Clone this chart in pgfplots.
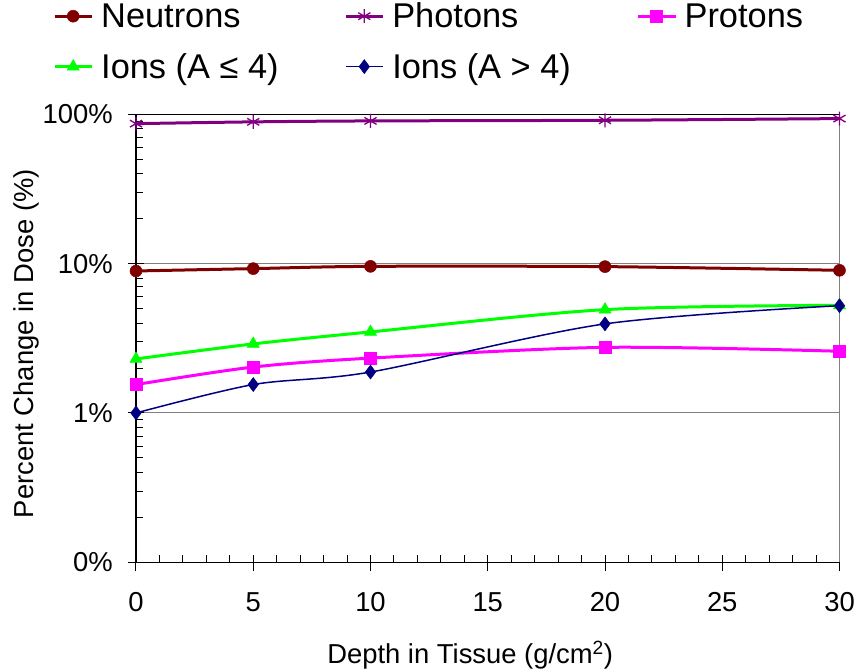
\documentclass[border=0pt]{standalone}
\usepackage{pgfplots}
\pgfplotsset{compat=1.18}
\usepackage{fontspec}
\setmainfont{Liberation Sans}
\definecolor{neut}{HTML}{800000}
\definecolor{phot}{HTML}{800080}
\definecolor{prot}{HTML}{FF00FF}
\definecolor{ionl}{HTML}{00FF00}
\definecolor{ionh}{HTML}{000080}
\definecolor{gridg}{HTML}{808080}
\begin{document}
\begin{tikzpicture}
\begin{axis}[
  scale only axis, width=703.5bp, height=448bp,
  ymode=log, xmin=0, xmax=30, ymin=0.1, ymax=100,
  axis lines*=left,
  axis line style={line width=1.5bp, black, -},
  clip=false,
  xtick={0,5,...,30}, minor x tick num=4,
  ytick={0.1,1,10,100}, yticklabels={0\%,1\%,10\%,100\%},
  minor ytick={0.2,0.3,0.4,0.5,0.6,0.7,0.8,0.9,2,3,4,5,6,7,8,9,20,30,40,50,60,70,80,90},
  tick align=inside,
  major tick length=16bp, minor tick length=7bp,
  every tick/.append style={line width=1bp, black},
  every major x tick/.append style={yshift=-9bp},
  every major y tick/.append style={xshift=-8bp},
  ymajorgrids, major grid style={line width=1bp, gridg},
  tick label style={font=\fontsize{27.5}{33}\selectfont},
  /pgf/number format/assume math mode=true,
  xticklabel style={anchor=base, inner sep=0pt, yshift=-48.7bp},
  yticklabel style={anchor=east, inner sep=0pt, xshift=-23bp},
  xlabel={Depth in Tissue (g/cm\textsuperscript{2})},
  xlabel style={at={(axis description cs:0.475,-0.2248)}, anchor=base, font=\fontsize{27.5}{33}\selectfont},
  ylabel={Percent Change in Dose (\%)},
  ylabel style={at={(axis description cs:-0.1464,0.488)}, anchor=base, font=\fontsize{27.5}{33}\selectfont},
  legend columns=3,
  legend cell align=left,
  legend style={at={(axis description cs:0,1)}, anchor=north west, xshift=-83bp, yshift=111.5bp,
    draw=none, fill=none, inner sep=0pt, font=\fontsize{34.5}{41}\selectfont, row sep=24bp,
    nodes={inner sep=0pt},
    /tikz/column 1/.style={column sep=8bp},
    /tikz/column 2/.style={column sep=65.7bp},
    /tikz/column 3/.style={column sep=8bp},
    /tikz/column 4/.style={column sep=65.7bp},
    /tikz/column 5/.style={column sep=8bp}},
  legend image code/.code={\draw[mark repeat=2,mark phase=2] plot coordinates {(0bp,0bp) (18.5bp,0bp) (37bp,0bp)};},
]
\draw[gridg, line width=1.5bp] (rel axis cs:1,0) -- (rel axis cs:1,1);
\draw[black, line width=1bp] (rel axis cs:0,1) -- (rel axis cs:1,1);

\addplot[neut, line width=3bp, smooth, tension=0.5, mark=*, mark size=6bp,
  mark options={fill=neut, draw=neut, line width=0.5bp}]
  coordinates {(0,8.93) (5,9.26) (10,9.59) (20,9.55) (30,9.02)};
\addlegendentry{Neutrons}
\addplot[phot, line width=3bp, smooth, tension=0.5, mark=asterisk, mark size=7bp,
  mark options={draw=phot, line width=1.3bp}]
  coordinates {(0,86.6) (5,89.0) (10,90.3) (20,91.2) (30,93.6)};
\addlegendentry{Photons}
\addplot[prot, line width=3bp, smooth, tension=0.5, mark=square*, mark size=6bp,
  mark options={fill=prot, draw=prot, line width=0.5bp}]
  coordinates {(0,1.55) (5,2.03) (10,2.33) (20,2.75) (30,2.59)};
\addlegendentry{Protons}
\addplot[ionl, line width=3bp, smooth, tension=0.5, mark=triangle*, mark size=7bp,
  mark options={fill=ionl, draw=ionl, line width=0.5bp}]
  coordinates {(0,2.30) (5,2.90) (10,3.49) (20,4.92) (30,5.26)};
\addlegendentry{Ions (A ≤ 4)}
\addplot[ionh, line width=1.5bp, smooth, tension=0.5, mark=diamond*, mark size=7bp,
  mark options={fill=ionh, draw=ionh, line width=0.5bp}]
  coordinates {(0,1.00) (5,1.55) (10,1.88) (20,3.95) (30,5.23)};
\addlegendentry{Ions (A > 4)}
\end{axis}
\pgfresetboundingbox
\path (-136bp,-109.7bp) rectangle (722bp,562.3bp);
\end{tikzpicture}
\end{document}
